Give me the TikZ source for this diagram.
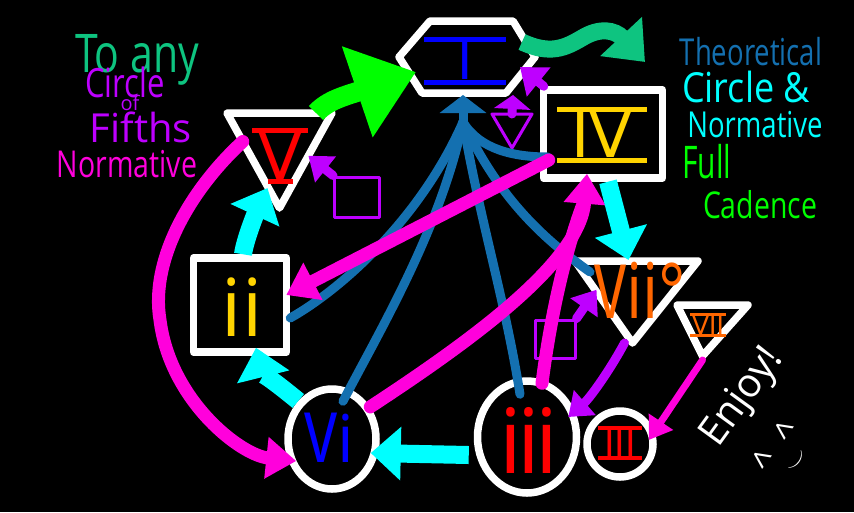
\documentclass[tikz,border=0pt]{standalone}
\usepackage{fontspec}
\usepackage{graphicx}
\setmainfont{Open Sans}
\newfontfamily\numfont{DejaVu Sans}
\usetikzlibrary{arrows.meta,shapes.geometric,calc}
\definecolor{mag}{RGB}{255,0,220}
\definecolor{cya}{RGB}{0,255,255}
\definecolor{pur}{RGB}{190,0,255}
\definecolor{fan}{RGB}{20,112,176}
\definecolor{lime}{RGB}{0,255,0}
\definecolor{tealg}{RGB}{14,196,128}
\definecolor{nblue}{RGB}{0,0,255}
\definecolor{nred}{RGB}{255,0,0}
\definecolor{nyel}{RGB}{255,212,0}
\definecolor{nora}{RGB}{255,102,0}
\newcommand\rnum[4]{\vbox{\offinterlineskip
 \hbox to #1{\hss\vrule width #1 height #3 depth 0pt\hss}%
 \hbox to #1{\hss #4\hss}%
 \hbox to #1{\hss\vrule width #2 height #3 depth 0pt\hss}}}
\newcommand\fs[1]{\fontsize{#1}{#1}\selectfont}
\begin{document}
\begin{tikzpicture}[x=1pt,y=-1pt,
  outline/.style={draw=white,line width=7.5pt,line join=round,line cap=round},
  shapebox/.style={inner sep=0pt,outer sep=0pt},
  fanline/.style={draw=fan,line width=9pt,line cap=round},
  cyarr/.style={draw=cya,line width=18pt,-{Triangle[length=30pt,width=52pt]}},
  magarr/.style={draw=mag,line width=13pt,line cap=round,-{Triangle[length=30pt,width=40pt]}},
  magline/.style={draw=mag,line width=13pt,line cap=round},
  purarr/.style={draw=pur,line width=9pt,line cap=round,-{Triangle[length=22pt,width=32pt]}},
  purbox/.style={draw=pur,line width=3pt,line join=round},
  lbl/.style={inner sep=0pt},
  hand/.style={inner sep=0pt,anchor=base},
]
\useasboundingbox (0,0) rectangle (854,512);
\fill[black] (0,0) rectangle (854,512);

% ---- shapes
\node[shapebox, minimum width=136pt, minimum height=72pt] (I) at (467,57) {};
\draw[outline] (I.west) -- ($(I.north west)+(31,0)$) -- ($(I.north east)+(-22,0)$) -- (I.east)
  -- ($(I.south east)+(-29,0)$) -- ($(I.south west)+(23,0)$) -- cycle;
\node[outline, rectangle, minimum width=119pt, minimum height=88pt] (IV) at (603,134) {};
\node[shapebox, minimum width=105pt, minimum height=95pt] (V) at (279.5,160.5) {};
\draw[outline] (V.north west) -- (V.north east) -- (V.south) -- cycle;
\node[outline, rectangle, minimum width=93pt, minimum height=94pt] (ii) at (240,305) {};
\node[outline, ellipse, minimum width=88pt, minimum height=100pt] (vi) at (332,439) {};
\node[outline, ellipse, minimum width=99pt, minimum height=112pt] (iii) at (527,437) {};
\node[outline, circle, minimum size=66pt] (III) at (620,444) {};
\node[shapebox, minimum width=123pt, minimum height=82pt] (vii) at (636.5,302) {};
\draw[outline] (vii.north west) -- (vii.north east) -- ($(vii.south)+(-4,0)$) -- cycle;
\node[shapebox, minimum width=71pt, minimum height=51pt] (VIIt) at (712.5,330.5) {};
\draw[outline] (VIIt.north west) -- (VIIt.north east) -- ($(VIIt.south)+(-10,0)$) -- cycle;
\node[shapebox, minimum width=40pt, minimum height=34pt] (dim) at (512,131) {};
\draw[purbox] (dim.north west) -- (dim.north east) -- (dim.south) -- cycle;
\node[purbox, rectangle, minimum width=45pt, minimum height=40pt, inner sep=0pt] (sqV) at (357,197) {};
\node[purbox, rectangle, minimum width=40pt, minimum height=38pt, inner sep=0pt] (sq7) at (555,339) {};

% ---- blue fan
\coordinate (fanc) at (463,122);
\draw[fanline] (fanc) .. controls (480,150) and (515,157) .. ($(IV.west)+(8,23)$);
\draw[fanline] (fanc) .. controls (500,200) and (545,240) .. ($(vii.north west)+(15,11)$);
\draw[fanline] (fanc) .. controls (480,220) and (505,300) .. ($(iii.north)+(-7,17)$);
\draw[fanline] (fanc) .. controls (440,230) and (380,330) .. ($(vi.north)+(11,16)$);
\draw[fanline] (fanc) .. controls (420,220) and (340,290) .. ($(ii.east)+(0,13)$);
\draw[fanline, -{Triangle[length=18pt,width=46pt]}] (fanc) -- ($(I.south)+(-4,2)$);

% ---- magenta
\draw[magarr] ($(V.north west)!0.3!(V.south)$) .. controls (190,190) and (150,260) .. (160,320)
  .. controls (170,400) and (240,455) .. ($(vi.west)+(12,22)$);
\draw[magarr] ($(IV.west)+(9,26)$) -- ($(ii.east)+(-4,-10)$);
\draw[magline] ($(iii.north)+(15,6)$) .. controls (550,320) and (565,250) .. ($(IV.south)+(-18,17)$);
\draw[magarr] (vi.40) .. controls (480,335) and (580,260) .. ($(IV.south)+(-16,-8)$);
\draw[draw=mag, line width=7pt, line cap=round, -{Triangle[length=22pt,width=28pt]}]
  ($(VIIt.south)+(-10,4)$) -- ($(III.east)+(-8,-4)$);

% ---- cyan
\draw[cyarr] ($(IV.south)+(5,0)$) -- ($(vii.north)+(-8,-1)$);
\draw[cyarr] ($(iii.west)+(-5,18)$) -- ($(vi.east)+(-9,14)$);
\draw[cyarr] (vi.north west) .. controls (285,390) and (262,372) .. ($(ii.south)+(16,-8)$);
\draw[cyarr] ($(ii.north)+(3,0)$) .. controls (245,240) and (255,215) .. ($(V.south)+(-12,-20)$);

% ---- purple
\draw[purarr] ($(vii.south)+(-12,0)$) .. controls (610,370) and (590,398) .. ($(iii.east)+(-12,-20)$);
\draw[purarr] (sqV.north west) -- ($(V.north east)!0.45!(V.south)$);
\draw[purarr] (sq7.north east) -- ($(vii.north west)!0.35!(vii.south)$);
\draw[purarr, -{Triangle[length=14pt,width=36pt]}] (dim.north) -- ($(I.south)+(46,2)$);
\draw[purarr, -{Triangle[length=24pt,width=36pt]}] ($(IV.north west)+(4,0)$) -- ($(I.east)+(-15,10)$);

% ---- green and teal
\draw[draw=lime, line width=20pt, -{Triangle[length=62pt,width=92pt]}]
  ($(V.north east)+(-16,0)$) .. controls (328,100) and (345,96) .. ($(I.west)+(17,15)$);
\coordinate (tealend) at (645,62);
\draw[draw=tealg, line width=17pt, -{Triangle[length=35pt,width=55pt]}]
  ($(I.east)+(-13,-15)$) .. controls (550,55) and (565,48) .. (582,38)
  .. controls (600,27) and (615,30) .. (tealend);

% ---- node labels
\node[lbl, text=nblue, font=\numfont\fs{52}] (Il) at (465,61) {\rnum{82pt}{82pt}{5pt}{I}};
\node[lbl, text=nyel, font=\numfont\fs{62}] (IVl) at (602,135) {\rnum{90pt}{90pt}{5pt}{IV}};
\node[lbl, text=nred, font=\numfont\fs{64}] (Vl) at (280,156) {\rnum{56pt}{25pt}{5pt}{V}};
\node[lbl, text=nred, font=\numfont\fs{36}] (IIIl) at (620,443) {\rnum{44pt}{44pt}{3.5pt}{III}};
\node[lbl, text=nora, font=\numfont\fs{25}] (VIIl) at (708,325) {\rnum{36pt}{36pt}{3pt}{VII}};
\node[lbl, text=nyel, font=\fs{80}] (iil) at (242,307) {ii};
\node[lbl, text=nblue, font=\fs{66}] (vil) at (329,438) {\scalebox{1}[1.4]{v}i};
\node[lbl, text=nred, font=\fs{90}] (iiil) at (529,440) {i\kern-5pt i\kern-5pt i};
\node[lbl, text=nora, font=\fs{64}] (viil) at (640,290) {\scalebox{1}[1.2]{\scalebox{1}[1.3]{v}ii°}};

% ---- captions
\node[hand, text=tealg, font=\fs{41}] (t1) at (137,72) {\scalebox{1}[1.3]{To any}};
\node[hand, text=pur, font=\fs{31}] (t2) at (125,97) {\scalebox{1}[1.3]{Circle}};
\node[hand, text=pur, font=\fs{20}] (t3) at (130,110) {of};
\node[hand, text=pur, font=\fs{40}] (t4) at (141,142) {Fifths};
\node[hand, text=mag, font=\fs{28.5}] (t5) at (127,177) {\scalebox{1}[1.3]{Normative}};
\node[hand, text=fan, font=\fs{27.5}] (r1) at (751,65) {\scalebox{1}[1.35]{Theoretical}};
\node[hand, text=cya, font=\fs{36}] (r2) at (746,102) {\scalebox{1}[1.15]{Circle \&}};
\node[hand, text=cya, font=\fs{27.5}] (r3) at (755,137) {\scalebox{1}[1.3]{Normative}};
\node[hand, text=lime, font=\fs{30}] (r4) at (707,178) {\scalebox{1}[1.5]{Full}};
\node[hand, text=lime, font=\fs{28.4}] (r5) at (760,218) {\scalebox{1}[1.3]{Cadence}};
\node[lbl, text=white, rotate=54, font=\fs{40}] (enjoy) at (743,398) {Enjoy!};
\node[lbl, text=white, rotate=54, font=\fs{34}, align=center] (face) at (784,452) {\^{}\hspace{18pt}\^{}\\[-14pt]$\smile$};
\end{tikzpicture}
\end{document}
